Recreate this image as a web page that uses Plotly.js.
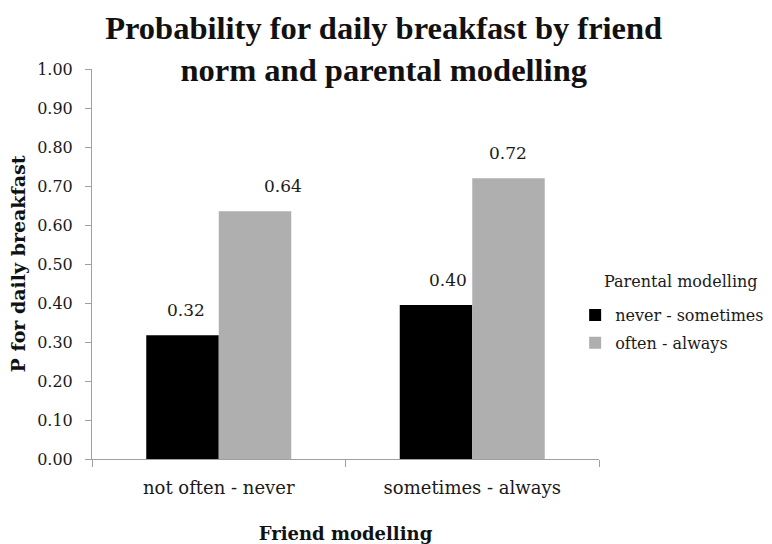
<!DOCTYPE html>
<html><head><meta charset="utf-8">
<script src="https://cdn.plot.ly/plotly-3.0.1.min.js"></script>
<style>html,body{margin:0;padding:0;background:#fff}#chart{width:772px;height:544px}</style>
</head><body><div id="chart"></div>
<script>
const categories = ["not often - never", "sometimes - always"];
const seriesNames = ["never - sometimes", "often - always"];
const legendTitle = "Parental modelling";
const neverSometimes = [0.317, 0.395];
const oftenAlways = [0.635, 0.72];
const labelsNever = ["0.32", "0.40"];
const labelsOften = ["0.64", "0.72"];
const yTicks = [0, 0.1, 0.2, 0.3, 0.4, 0.5, 0.6, 0.7, 0.8, 0.9, 1.0];

const serif = "DejaVu Serif";
const traces = [
  {type: "bar", name: seriesNames[0], x: categories, y: neverSometimes,
   marker: {color: "#000000"}, legendgroup: "a"},
  {type: "bar", name: seriesNames[1], x: categories, y: oftenAlways,
   marker: {color: "#afafaf"}, legendgroup: "b"}
];

const annotations = [];
const lblShiftNever = [3, 12];
const lblShiftOften = [28, 0];
categories.forEach((c, i) => {
  annotations.push({x: c, y: neverSometimes[i], xref: "x", yref: "y", text: labelsNever[i],
    showarrow: false, xshift: -36 + lblShiftNever[i], yshift: 25,
    font: {family: serif, size: 17, color: "#1a1a1a"}});
  annotations.push({x: c, y: oftenAlways[i], xref: "x", yref: "y", text: labelsOften[i],
    showarrow: false, xshift: 36 + lblShiftOften[i], yshift: 25,
    font: {family: serif, size: 17, color: "#1a1a1a"}});
});
annotations.push({xref: "paper", yref: "paper", x: 1.006, y: 0.454, xanchor: "left", yanchor: "middle",
  text: legendTitle, showarrow: false, font: {family: serif, size: 16, color: "#1a1a1a"}});

const layout = {
  width: 772, height: 544,
  margin: {l: 92, r: 173, t: 69, b: 85, autoexpand: false},
  paper_bgcolor: "#ffffff", plot_bgcolor: "#ffffff",
  showlegend: true,
  barmode: "group", bargap: 0.428, bargroupgap: 0,
  title: {text: "Probability for daily breakfast by friend<br>norm and parental modelling",
    font: {family: "Liberation Serif", size: 32.5, color: "#111111", weight: "bold"},
    x: 0.497, xanchor: "center", xref: "container", y: 0.929, yanchor: "middle"},
  xaxis: {
    type: "category", tickson: "boundaries", ticks: "outside", ticklen: 7, tickcolor: "#a0a0a0",
    showline: true, linecolor: "#a0a0a0", linewidth: 1, showgrid: false, zeroline: false,
    ticklabelstandoff: 12,
    tickfont: {family: serif, size: 18, color: "#1a1a1a"},
    title: {text: "Friend modelling", standoff: 36,
      font: {family: serif, size: 18, color: "#111111", weight: "bold"}}
  },
  yaxis: {
    range: [0, 1], tickvals: yTicks, ticktext: yTicks.map(v => v.toFixed(2)),
    ticks: "outside", ticklen: 6, tickcolor: "#a0a0a0",
    showline: true, linecolor: "#a0a0a0", linewidth: 1, showgrid: false, zeroline: false,
    ticklabelstandoff: 9,
    tickfont: {family: serif, size: 16, color: "#1a1a1a"},
    title: {text: "P for daily breakfast", standoff: 6,
      font: {family: serif, size: 19, color: "#111111", weight: "bold"}}
  },
  legend: {
    xref: "container", yref: "container",
    x: 0.745, xanchor: "left", y: 0.452, yanchor: "top",
    font: {family: serif, size: 16, color: "#1a1a1a"},
    itemwidth: 30, tracegroupgap: 4, bgcolor: "rgba(0,0,0,0)"
  },
  annotations: annotations
};

Plotly.newPlot("chart", traces, layout, {displayModeBar: false, staticPlot: true});
</script></body></html>
